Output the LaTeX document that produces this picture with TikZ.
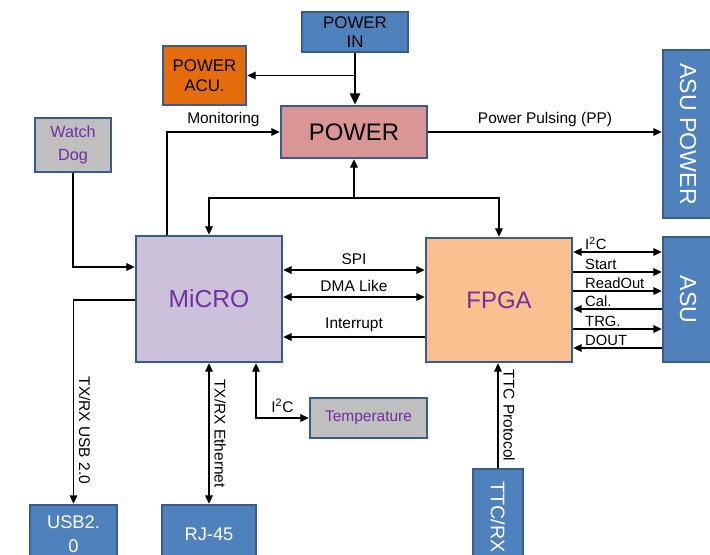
\documentclass[tikz,border=0pt]{standalone}
\usepackage{fontspec}
\setmainfont{Liberation Sans}
\usepackage{graphicx}
\usetikzlibrary{arrows.meta}
\definecolor{boxblue}{HTML}{4F81BD}
\definecolor{boxedge}{HTML}{385D8A}
\definecolor{acuorange}{HTML}{E46C0A}
\definecolor{pwrpink}{HTML}{D99694}
\definecolor{wdgray}{HTML}{BFBFBF}
\definecolor{microlav}{HTML}{CCC1DA}
\definecolor{fpgapeach}{HTML}{FAC090}
\definecolor{txtpurple}{HTML}{7030A0}
\tikzset{
  block/.style={draw=boxedge, line width=1.8pt, align=center, inner sep=0pt},
  blueblock/.style={block, fill=boxblue, text=white},
  sig/.style={line width=1pt},
  lbl/.style={font=\fontsize{11}{13}\selectfont},
  sublbl/.style={font=\fontsize{10.5}{12}\selectfont, anchor=south west, inner sep=1pt, xshift=7pt},
  >={Triangle[length=6pt,width=5.5pt]}
}
\begin{document}
\begin{tikzpicture}[x=0.025cm, y=-0.025cm]
  \useasboundingbox (0,0) rectangle (710,554);

  \node[blueblock, text=black, minimum width=2.65cm, minimum height=1cm, font=\fontsize{12}{14}\selectfont] (pwrin) at (355,32) {POWER\\IN};
  \node[block, fill=acuorange, minimum width=2.075cm, minimum height=1.475cm, font=\fontsize{12}{14}\selectfont] (acu) at (204.5,75.5) {POWER\\ACU.};
  \node[block, fill=pwrpink, minimum width=3.65cm, minimum height=1.3cm, font=\fontsize{17}{17}\selectfont] (power) at (354,132) {POWER};
  \node[blueblock, minimum width=1.25cm, minimum height=4.2cm, font=\fontsize{16.5}{17}\selectfont] (asupwr) at (688,134) {\rotatebox{-90}{ASU POWER}};
  \node[block, fill=wdgray, text=txtpurple, minimum width=1.9cm, minimum height=1.35cm, font=\fontsize{11.5}{16}\selectfont] (wdog) at (73,145) {Watch\\Dog};
  \node[block, fill=microlav, text=txtpurple, minimum width=3.65cm, minimum height=3.15cm, font=\fontsize{17.5}{18}\selectfont] (micro) at (209,299) {MiCRO};
  \node[block, fill=fpgapeach, text=txtpurple, minimum width=3.65cm, minimum height=3.1cm, font=\fontsize{17}{18}\selectfont] (fpga) at (499,300) {FPGA};
  \node[blueblock, minimum width=1.25cm, minimum height=3.125cm, font=\fontsize{16.5}{17}\selectfont] (asu) at (688,299.5) {\rotatebox{-90}{ASU}};
  \node[block, fill=wdgray, text=txtpurple, minimum width=2.925cm, minimum height=1cm, font=\fontsize{11}{13}\selectfont] (temp) at (368.5,418) {Temperature};
  \node[blueblock, minimum width=2.175cm, minimum height=1.45cm, font=\fontsize{13}{17}\selectfont] (usb) at (73.5,534) {USB2.\\0};
  \node[blueblock, minimum width=2.35cm, minimum height=1.45cm, font=\fontsize{13}{15}\selectfont] (rj) at (209,534) {RJ-45};
  \node[blueblock, minimum width=1.25cm, minimum height=2.4cm, font=\fontsize{14}{15}\selectfont] (ttc) at (498,517) {\rotatebox{-90}{TTC/RX}};

  \foreach \r/\y in {WD/267,USB/300,SPI/270,DMA/297,INT/337,A/252,B/272,C/291,D/309,E/329,F/348,BUS/198}{
    \coordinate (r\r) at (0,\y);
  }
  \coordinate (monx) at (167,0);
  \coordinate (tempx) at (256,0);

  \draw[line width=2pt, -{Triangle[length=8pt,width=7pt]}] (pwrin.south) -- (pwrin.south |- power.north);
  \draw[sig,->] (pwrin.south |- acu) -- (acu.east);
  \draw[sig,->] (monx |- micro.north) |- node[lbl, above, pos=0.75] {Monitoring} (power.west);
  \draw[sig,->] (power.east) -- node[lbl, above] {Power Pulsing (PP)} (power.east -| asupwr.west);
  \draw[sig,<->] (micro.north) -- (micro.north |- rBUS) -- (fpga.north |- rBUS) -- (fpga.north);
  \draw[sig,->] (power.south |- rBUS) -- (power.south);
  \draw[sig,->] (wdog.south) |- (micro.west |- rWD);

  \draw[sig,<->] (micro.east |- rSPI) -- node[lbl, above] {SPI} (fpga.west |- rSPI);
  \draw[sig,<->] (micro.east |- rDMA) -- node[lbl, above] {DMA Like} (fpga.west |- rDMA);
  \draw[sig,<-] (micro.east |- rINT) -- node[lbl, above] {Interrupt} (fpga.west |- rINT);

  \draw[sig,<->] (fpga.east |- rA) node[sublbl] {I\textsuperscript{2}C} -- (asu.west |- rA);
  \draw[sig,->] (fpga.east |- rB) node[sublbl] {Start} -- (asu.west |- rB);
  \draw[sig,->] (fpga.east |- rC) node[sublbl] {ReadOut} -- (asu.west |- rC);
  \draw[sig,<-] (fpga.east |- rD) node[sublbl] {Cal.} -- (asu.west |- rD);
  \draw[sig,->] (fpga.east |- rE) node[sublbl] {TRG.} -- (asu.west |- rE);
  \draw[sig,<-] (fpga.east |- rF) node[sublbl] {DOUT} -- (asu.west |- rF);

  \draw[sig,->] (micro.west |- rUSB) -| node[lbl, rotate=-90, anchor=south, pos=0.82] {TX/RX USB 2.0} (usb.north);
  \draw[sig,<->] (micro.south) -- node[lbl, rotate=-90, anchor=south] {TX/RX Ethernet} (rj.north);
  \draw[sig,<->] (tempx |- micro.south) |- node[lbl, above, pos=0.75] {I\textsuperscript{2}C} (temp.west);
  \draw[sig,->] (ttc.north) -- node[lbl, rotate=-90, anchor=south] {TTC Protocol} (ttc.north |- fpga.south);
\end{tikzpicture}
\end{document}
